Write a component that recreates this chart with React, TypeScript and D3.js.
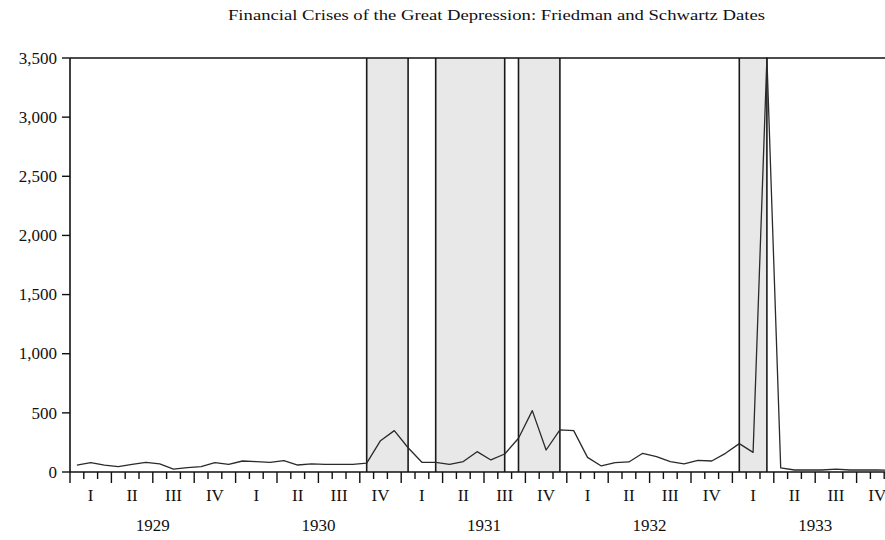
import React from "react";
import * as d3 from "d3";

const years = ["1929", "1930", "1931", "1932", "1933"];
const quarterLabels = ["I", "II", "III", "IV"];
// Monthly values, Jan 1929 .. Dec 1933
const values = [
  59, 79, 59, 45, 65, 82, 68, 25, 37, 45, 79, 65,
  93, 88, 82, 96, 59, 68, 65, 65, 65, 75, 265, 350,
  205, 82, 82, 65, 88, 172, 102, 152, 285, 519, 186, 356,
  350, 124, 51, 79, 85, 158, 130, 88, 68, 99, 93, 158,
  240, 166, 3500, 34, 17, 17, 17, 25, 17, 17, 17, 15,
];
const crisisStarts = ["1930-10", "1931-03", "1931-09", "1933-01"];
const crisisEnds = ["1931-01", "1931-08", "1931-12", "1933-03"];
const yTicks = [0, 500, 1000, 1500, 2000, 2500, 3000, 3500];
const title = "Financial Crises of the Great Depression: Friedman and Schwartz Dates";

const W = 885;
const H = 540;
const left = 70;
const top = 58;
const bottom = 472;
const monthW = 13.8;

const monthIndex = (s: string) => {
  const [y, m] = s.split("-").map(Number);
  return (y - 1929) * 12 + (m - 1);
};

export default function App() {
  const n = values.length;
  const x = d3.scaleLinear().domain([0, n]).range([left, left + n * monthW]);
  const y = d3.scaleLinear().domain([0, 3500]).range([bottom, top]);
  const line = d3
    .line<number>()
    .x((_, i) => x(i + 0.5))
    .y((d) => y(d));
  const font = "'Liberation Serif', 'Times New Roman', serif";

  return (
    <svg
      width={W}
      height={H}
      style={{ position: "absolute", left: 0, top: 0, background: "#fff" }}
      fontFamily={font}
    >
      <text
        x={228}
        y={20}
        fontSize={15}
        fill="#111"
        textLength={537}
        lengthAdjust="spacingAndGlyphs"
      >
        {title}
      </text>
      {crisisStarts.map((s, k) => {
        const x0 = x(monthIndex(s) + 0.5);
        const x1 = x(monthIndex(crisisEnds[k]) + 0.5);
        return (
          <g key={s}>
            <rect x={x0} y={top} width={x1 - x0} height={bottom - top} fill="#e8e8e8" />
            <line x1={x0} x2={x0} y1={top} y2={bottom} stroke="#1a1a1a" strokeWidth={1.6} />
            <line x1={x1} x2={x1} y1={top} y2={bottom} stroke="#1a1a1a" strokeWidth={1.6} />
          </g>
        );
      })}
      <path d={line(values) || ""} fill="none" stroke="#2a2a2a" strokeWidth={1.3} strokeLinejoin="round" />
      {/* frame */}
      <line x1={left} x2={x(n) + 2} y1={top} y2={top} stroke="#111" strokeWidth={1.6} />
      <line x1={left} x2={left} y1={top} y2={bottom} stroke="#111" strokeWidth={1.6} />
      <line x1={left} x2={x(n) + 2} y1={bottom} y2={bottom} stroke="#111" strokeWidth={1.6} />
      {/* y axis */}
      {yTicks.map((t) => (
        <g key={t}>
          <line x1={left - 8} x2={left} y1={y(t)} y2={y(t)} stroke="#111" strokeWidth={1.4} />
          <text x={57} y={y(t)} dy="0.34em" textAnchor="end" fontSize={17} fill="#111">
            {d3.format(",")(t)}
          </text>
        </g>
      ))}
      {/* x axis ticks */}
      {d3.range(0, n + 1).map((m) => (
        <line
          key={m}
          x1={x(m)}
          x2={x(m)}
          y1={bottom}
          y2={bottom + (m % 3 === 0 ? 11 : 7)}
          stroke="#111"
          strokeWidth={1.4}
        />
      ))}
      {years.map((yr, yi) =>
        quarterLabels.map((q, qi) => (
          <text
            key={yr + q}
            x={x(yi * 12 + qi * 3 + 1.5)}
            y={501}
            textAnchor="middle"
            fontSize={17}
            fill="#111"
          >
            {q}
          </text>
        ))
      )}
      {years.map((yr, yi) => (
        <text key={yr} x={x(yi * 12 + 6)} y={531} textAnchor="middle" fontSize={17} fill="#111">
          {yr}
        </text>
      ))}
    </svg>
  );
}
